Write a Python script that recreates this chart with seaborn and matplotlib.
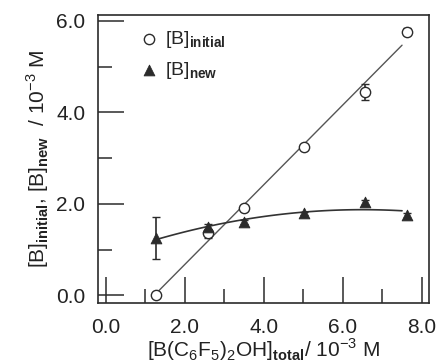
import numpy as np
import pandas as pd
import matplotlib
matplotlib.use('Agg')
import matplotlib.pyplot as plt
import seaborn as sns

# Data
conc_total = [1.27, 2.58, 3.49, 5.01, 6.56, 7.62]
b_initial = [0.00, 1.36, 1.90, 3.24, 4.45, 5.76]
b_initial_err = [0.04, 0.10, 0.05, 0.05, 0.18, 0.08]
b_new = [1.25, 1.49, 1.60, 1.79, 2.03, 1.75]
b_new_err = [0.46, 0.08, 0.05, 0.04, 0.05, 0.05]

x_ticks = [0.0, 2.0, 4.0, 6.0, 8.0]
y_ticks = [0.0, 2.0, 4.0, 6.0]

INK = '#2b2b2b'

sns.set_style('ticks')
plt.rcParams['font.family'] = ['Liberation Sans', 'DejaVu Sans']
plt.rcParams['mathtext.fontset'] = 'custom'
plt.rcParams['mathtext.rm'] = 'Liberation Sans'
plt.rcParams['mathtext.bf'] = 'Liberation Sans:bold'

df = pd.DataFrame({'x': conc_total, 'initial': b_initial, 'new': b_new,
                   'err_i': b_initial_err, 'err_n': b_new_err})

# fitted curves (linear for initial, quadratic for new)
xs = np.linspace(df['x'].min(), df['x'].max() - 0.12, 100)
p_lin = np.polyfit(df['x'], df['initial'], 1)
p_quad = np.polyfit(df['x'], df['new'], 2)
fit = pd.DataFrame({'x': xs, 'lin': np.polyval(p_lin, xs), 'quad': np.polyval(p_quad, xs)})

fig = plt.figure(figsize=(4.39, 3.63), dpi=100)
ax = fig.add_axes([0.223, 0.165, 0.754, 0.794])

sns.lineplot(data=fit, x='x', y='lin', ax=ax, color='#555555', lw=1.0)
sns.lineplot(data=fit, x='x', y='quad', ax=ax, color='#333333', lw=1.2)

ax.errorbar(df['x'], df['initial'], yerr=df['err_i'], fmt='none', ecolor=INK,
            elinewidth=1.2, capsize=3)
ax.errorbar(df['x'], df['new'], yerr=df['err_n'], fmt='none', ecolor=INK,
            elinewidth=1.2, capsize=3)

sns.scatterplot(data=df, x='x', y='initial', ax=ax, marker='o', s=55,
                facecolor='white', edgecolor=INK, linewidth=1.0, zorder=5,
                label=r'[B]$_{\mathbf{initial}}$')
sns.scatterplot(data=df, x='x', y='new', ax=ax, marker='^', s=60,
                color=INK, edgecolor=INK, zorder=5,
                label=r'[B]$_{\mathbf{new}}$')

ax.set_xlim(-0.2, 8.18)
ax.set_ylim(-0.17, 6.13)
ax.set_xticks(x_ticks)
ax.set_yticks(y_ticks)
ax.set_xticks([1.0, 3.0, 5.0, 7.0], minor=True)
ax.set_yticks([1.0, 3.0, 5.0], minor=True)
ax.set_xticklabels([f'{v:.1f}' for v in x_ticks])
ax.set_yticklabels([f'{v:.1f}' for v in y_ticks])

ax.tick_params(which='major', direction='in', length=19, width=1.1, color=INK,
               labelsize=15, labelcolor='#222222')
ax.tick_params(which='minor', direction='in', length=10, width=1.1, color=INK)
ax.tick_params(axis='x', which='major', pad=11)
ax.tick_params(axis='y', which='major', pad=9)

for sp in ax.spines.values():
    sp.set_visible(True)
    sp.set_color(INK)
    sp.set_linewidth(1.2)

ax.set_xlabel(r'[B(C$_6$F$_5$)$_2$OH]$_{\mathbf{total}}$/ 10$^{\mathrm{-3}}$ M', fontsize=15,
              color='#222222', labelpad=-1)
ax.set_ylabel(r'[B]$_{\mathbf{initial}}$, [B]$_{\mathbf{new}}$  / 10$^{\mathrm{-3}}$ M', fontsize=15,
              color='#222222', labelpad=4)

leg = ax.legend(loc='upper left', bbox_to_anchor=(0.085, 0.99), frameon=False,
                fontsize=14, handletextpad=0.2, borderaxespad=0.2,
                labelspacing=0.5, handlelength=1.2)

fig.savefig('out.png', dpi=100)
